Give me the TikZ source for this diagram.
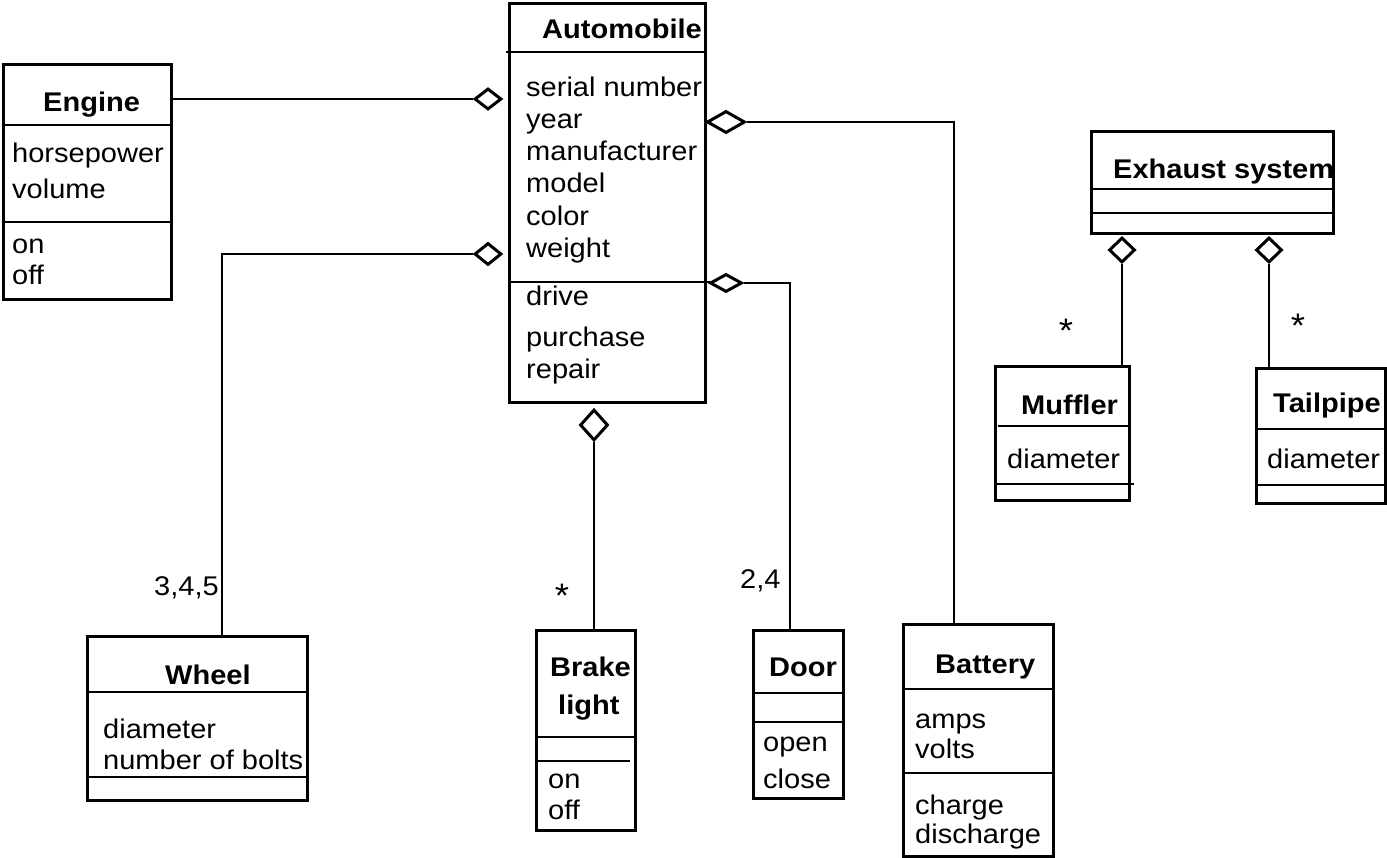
\documentclass[tikz,border=0pt]{standalone}
\usepackage{fontspec}
\setmainfont{Liberation Sans}[FakeStretch=1.075]
\usetikzlibrary{shapes.geometric}
\begin{document}
\begin{tikzpicture}[x=1pt,y=-1pt,
  cls/.style={draw, line width=2.8pt, anchor=north west, inner sep=0pt},
  sep/.style={line width=2.8pt},
  conn/.style={line width=2.8pt},
  agg/.style={diamond, draw, line width=3pt, fill=white, inner sep=0pt},
  txt/.style={anchor=base west, inner sep=0pt, font=\fontsize{27}{30}\selectfont},
  ttl/.style={txt, font=\fontsize{27}{30}\selectfont\bfseries},
  mult/.style={anchor=center, inner sep=0pt, font=\fontsize{34}{36}\selectfont}]
\useasboundingbox (0,0) rectangle (1387,858);

% ---------- class boxes ----------
\node[cls, minimum width=168pt, minimum height=235pt] (engine) at (1.8,63) {};
\draw[sep] (1.8,125) -- (170,125);
\draw[sep] (1.8,222) -- (170,222);

\node[cls, minimum width=196pt, minimum height=399pt] (auto) at (508,2) {};
\draw[sep] (506,52) -- (706,52);
\draw[sep] (510,282) -- (711,282);

\node[cls, minimum width=242pt, minimum height=102pt] (exhaust) at (1090,130) {};
\draw[sep] (1090,189) -- (1332,189);
\draw[sep] (1090,213) -- (1332,213);

\node[cls, minimum width=134pt, minimum height=134pt] (muffler) at (994,365) {};
\draw[sep] (998,426) -- (1130,426);
\draw[sep] (994,484) -- (1134,484);

\node[cls, minimum width=129pt, minimum height=135pt] (tailpipe) at (1255,367) {};
\draw[sep] (1255,429) -- (1384,429);
\draw[sep] (1255,485) -- (1384,485);

\node[cls, minimum width=220pt, minimum height=164pt] (wheel) at (86,635) {};
\draw[sep] (86,692) -- (306,692);
\draw[sep] (86,777) -- (306,777);

\node[cls, minimum width=99pt, minimum height=200pt] (brake) at (535,629) {};
\draw[sep] (535,737) -- (634,737);
\draw[sep] (535,761) -- (630,761);

\node[cls, minimum width=90pt, minimum height=168pt] (door) at (752,629) {};
\draw[sep] (752,693) -- (842,693);
\draw[sep] (752,722) -- (842,722);

\node[cls, minimum width=150pt, minimum height=232pt] (battery) at (902,623) {};
\draw[sep] (902,689) -- (1052,689);
\draw[sep] (902,773) -- (1052,773);

% ---------- texts ----------
\node[ttl] (tEngine) at (43,112) {Engine};
\node[txt] (eA1) at (12,163) {horsepower};
\node[txt] (eA2) at (12,199) {volume};
\node[txt] (eM1) at (12,254) {on};
\node[txt] (eM2) at (12,285) {off};

\node[ttl] (tAuto) at (542,39) {Automobile};
\node[txt] (aA1) at (526,97) {serial number};
\node[txt] (aA2) at (526,129) {year};
\node[txt] (aA3) at (526,161) {manufacturer};
\node[txt] (aA4) at (526,193) {model};
\node[txt] (aA5) at (526,226) {color};
\node[txt] (aA6) at (526,258) {weight};
\node[txt] (aM1) at (526,306) {drive};
\node[txt] (aM2) at (526,347) {purchase};
\node[txt] (aM3) at (526,379) {repair};

\node[ttl] (tExh) at (1113,179) {Exhaust system};

\node[ttl] (tMuf) at (1021,414) {Muffler};
\node[txt] (mA1) at (1007,468) {diameter};

\node[ttl] (tTail) at (1273,413) {Tailpipe};
\node[txt] (tA1) at (1267,468) {diameter};

\node[ttl] (tWheel) at (165,684) {Wheel};
\node[txt] (wA1) at (103,738) {diameter};
\node[txt] (wA2) at (103,769) {number of bolts};

\node[ttl] (tBrake1) at (550,676) {Brake};
\node[ttl] (tBrake2) at (558,714) {light};
\node[txt] (bM1) at (548,788) {on};
\node[txt] (bM2) at (548,819) {off};

\node[ttl] (tDoor) at (769,676) {Door};
\node[txt] (dM1) at (763,751) {open};
\node[txt] (dM2) at (763,788) {close};

\node[ttl] (tBat) at (935,673) {Battery};
\node[txt] (btA1) at (915,728) {amps};
\node[txt] (btA2) at (915,758) {volts};
\node[txt] (btM1) at (915,814) {charge};
\node[txt] (btM2) at (915,843) {discharge};

% ---------- aggregation diamonds ----------
\node[agg, minimum width=27pt, minimum height=21pt] (dEng) at (488,99) {};
\node[agg, minimum width=27pt, minimum height=22pt] (dWhl) at (488,254) {};
\node[agg, minimum width=38pt, minimum height=22pt] (dBat) at (726,122) {};
\node[agg, minimum width=32pt, minimum height=18pt] (dDoor) at (726,283) {};
\node[agg, minimum width=28pt, minimum height=31pt] (dBrk) at (594,425) {};
\node[agg, minimum width=26pt, minimum height=25pt] (dMuf) at (1122,250) {};
\node[agg, minimum width=26pt, minimum height=25pt] (dTail) at (1269,250) {};

% ---------- connectors ----------
\draw[conn] (engine.east |- dEng.west) -- (dEng.west);
\draw[conn] (dWhl.west) -| ([xshift=136pt]wheel.north west);
\draw[conn] (dBat.east) -| ([xshift=52pt]battery.north west);
\draw[conn] (dDoor.east) -| ([xshift=38pt]door.north west);
\draw[conn] (dBrk.south) -- (dBrk.south |- brake.north);
\draw[conn] (dMuf.south) -- (dMuf.south |- muffler.north);
\draw[conn] (dTail.south) -- (dTail.south |- tailpipe.north);

% ---------- multiplicities ----------
\node[txt, anchor=base east] (m345) at (219,595) {3,4,5};
\node[mult] (mBrk) at (562,596) {*};
\node[txt] (m24) at (740,588) {2,4};
\node[mult] (mMuf) at (1066,331) {*};
\node[mult] (mTail) at (1298,326) {*};
\end{tikzpicture}
\end{document}
